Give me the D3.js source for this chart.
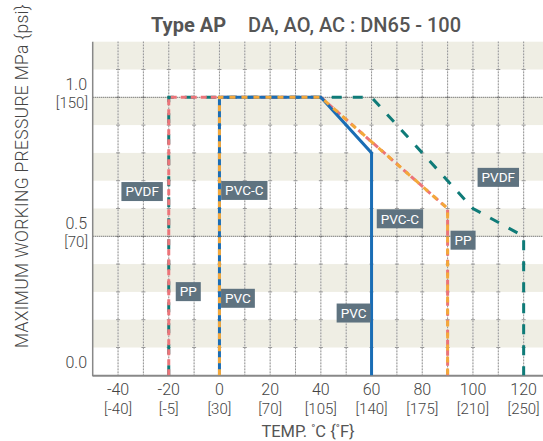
<!DOCTYPE html>
<html><head><meta charset="utf-8">
<script src="https://cdn.jsdelivr.net/npm/d3@7"></script>
<style>
html,body{margin:0;padding:0;background:#fff;}
svg{display:block;font-family:Roboto,"Noto Sans",sans-serif;}
</style></head>
<body><svg id="c" width="543" height="441"></svg>
<script>
// ---- data ----
const tempTicks = [-40, -20, 0, 20, 40, 60, 80, 100, 120];
const fahrenheitLabels = ["[-40]", "[-5]", "[30]", "[70]", "[105]", "[140]", "[175]", "[210]", "[250]"];
const pressTicks = [0.0, 0.5, 1.0];
const psiLabels = ["", "[70]", "[150]"];
const gridTemps = [-40, -30, -20, -10, 0, 10, 20, 30, 40, 50, 60, 70, 80, 90, 100, 110, 120];
const bandStarts = [0.1, 0.3, 0.5, 0.7, 0.9, 1.1];

const pvdfTemp = [-20, -20, 60, 100, 120, 120];
const pvdfPress = [0, 1.0, 1.0, 0.6, 0.5, 0];
const ppTemp = [-20, -20, 40, 90, 90];
const ppPress = [0, 1.0, 1.0, 0.6, 0];
const pvcTemp = [0, 0, 40, 60, 60];
const pvcPress = [0, 1.0, 1.0, 0.8, 0];
const pvccTemp = [0, 0, 40, 90, 90];
const pvccPress = [0, 1.0, 1.0, 0.6, 0];

const labelNames = ["PVDF", "PVC-C", "PVDF", "PVC-C", "PP", "PP", "PVC", "PVC"];
const labelTemp = [-30.5, 9.8, 110, 71.2, 96.1, -12.3, 7.3, 52.9];
const labelPress = [0.661, 0.665, 0.712, 0.563, 0.486, 0.301, 0.277, 0.224];

// ---- layout ----
const svg = d3.select("#c");
const x = d3.scaleLinear().domain([-50, 130]).range([92.7, 549]);
const y = d3.scaleLinear().domain([0, 1.2]).range([375.3, 41.7]);
const x0 = x(-50), x1 = 543;

// bands
svg.append("g").selectAll("rect").data(bandStarts).join("rect")
  .attr("x", x0).attr("width", x1 - x0)
  .attr("y", d => y(d + 0.1)).attr("height", d => y(d) - y(d + 0.1))
  .attr("fill", "#efeee4");

// vertical grid
const gg = svg.append("g");
gg.selectAll("line.v").data(gridTemps).join("line").attr("class", "v")
  .attr("x1", d => x(d)).attr("x2", d => x(d)).attr("y1", y(1.2)).attr("y2", y(0))
  .attr("stroke", "#d6d6d6").attr("stroke-width", 1);
gg.selectAll("line.vd").data(gridTemps).join("line").attr("class", "vd")
  .attr("x1", d => x(d)).attr("x2", d => x(d)).attr("y1", y(1.2)).attr("y2", y(0))
  .attr("stroke", "#777").attr("stroke-width", 1).attr("stroke-dasharray", "1,2");
// small cross ticks
const crossP = d3.range(1, 12).map(i => i / 10);
gridTemps.forEach(t => {
  gg.append("g").selectAll("line").data(crossP).join("line")
    .attr("x1", x(t) - 2).attr("x2", x(t) + 2).attr("y1", d => y(d)).attr("y2", d => y(d))
    .attr("stroke", "#999").attr("stroke-width", 1);
});
// horizontal dotted lines at 0.5 and 1.0
svg.append("g").selectAll("line").data([0.5, 1.0]).join("line")
  .attr("x1", x0).attr("x2", x1).attr("y1", d => y(d)).attr("y2", d => y(d))
  .attr("stroke", "#444").attr("stroke-width", 1).attr("stroke-dasharray", "1,1");

// axes lines
svg.append("line").attr("x1", x0).attr("x2", x0).attr("y1", y(1.2)).attr("y2", y(0) + 1)
  .attr("stroke", "#888").attr("stroke-width", 1.5);
svg.append("line").attr("x1", x0).attr("x2", x1).attr("y1", y(0) + 0.5).attr("y2", y(0) + 0.5)
  .attr("stroke", "#888").attr("stroke-width", 2);

// series
const line = d3.line().x(d => x(d[0])).y(d => y(d[1])).curve(d3.curveLinear);
const zip = (a, b) => a.map((v, i) => [v, b[i]]);
const series = [
  {t: pvdfTemp, p: pvdfPress, color: "#0f7b78", w: 3, dash: "10,11"},
  {t: ppTemp, p: ppPress, color: "#ec7479", w: 3, dash: "6,4"},
  {t: pvcTemp, p: pvcPress, color: "#1a6db5", w: 3, dash: null},
  {t: pvccTemp, p: pvccPress, color: "#f3a83b", w: 3, dash: "6,6"}
];
svg.append("g").selectAll("path").data(series).join("path")
  .attr("d", s => line(zip(s.t, s.p)))
  .attr("fill", "none").attr("stroke", s => s.color).attr("stroke-width", s => s.w)
  .attr("stroke-dasharray", s => s.dash).attr("stroke-linejoin", "miter");

// labels
const lg = svg.append("g");
labelNames.forEach((n, i) => {
  const g = lg.append("g").attr("transform", `translate(${x(labelTemp[i])},${y(labelPress[i])})`);
  const t = g.append("text").text(n).attr("text-anchor", "middle").attr("dy", "0.36em")
    .attr("fill", "#fff").attr("font-size", 13.5);
  const w = t.node().getComputedTextLength();
  g.insert("rect", "text").attr("x", -w / 2 - 4).attr("y", -9.5).attr("width", w + 8).attr("height", 19)
    .attr("fill", "#5f7380");
});

// x tick labels
svg.append("g").selectAll("text").data(tempTicks).join("text")
  .attr("x", d => x(d)).attr("y", 395).attr("text-anchor", "middle")
  .attr("font-size", 16).attr("font-weight", 300).attr("fill", "#444").text(d => d);
svg.append("g").selectAll("text").data(fahrenheitLabels).join("text")
  .attr("x", (d, i) => x(tempTicks[i])).attr("y", 414).attr("text-anchor", "middle")
  .attr("font-size", 15).attr("font-weight", 300).attr("fill", "#444").text(d => d);

// y tick labels
svg.append("g").selectAll("text").data(pressTicks).join("text")
  .attr("x", 87).attr("y", d => y(d) - 7).attr("text-anchor", "end")
  .attr("font-size", 16).attr("font-weight", 300).attr("fill", "#444").text(d => d.toFixed(1));
svg.append("g").selectAll("text").data(psiLabels).join("text")
  .attr("x", 88).attr("y", (d, i) => y(pressTicks[i]) + 11).attr("text-anchor", "end")
  .attr("font-size", 15).attr("font-weight", 300).attr("fill", "#444").text(d => d);

// title
const title = svg.append("text").attr("x", 151).attr("y", 32).attr("font-size", 20).attr("fill", "#555");
title.append("tspan").attr("font-weight", "bold").text("Type AP");
title.append("tspan").attr("dx", 22).attr("font-weight", 500).text("DA, AO, AC : DN65 - 100");

// x axis title
const xt = svg.append("text").attr("x", 308).attr("y", 437).attr("text-anchor", "middle")
  .attr("font-size", 16.5).attr("fill", "#555");
xt.append("tspan").text("TEMP.  ");
xt.append("tspan").attr("font-size", 11).attr("dy", -5).text("°");
xt.append("tspan").attr("dy", 5).text("C {");
xt.append("tspan").attr("font-size", 11).attr("dy", -5).text("°");
xt.append("tspan").attr("dy", 5).text("F}");

// y axis title
svg.append("text").attr("transform", "translate(28,348) rotate(-90)")
  .attr("font-size", 17.5).attr("font-weight", 300).attr("fill", "#444")
  .attr("letter-spacing", 0.3)
  .text("MAXIMUM WORKING PRESSURE  MPa {psi}");
</script></body></html>
